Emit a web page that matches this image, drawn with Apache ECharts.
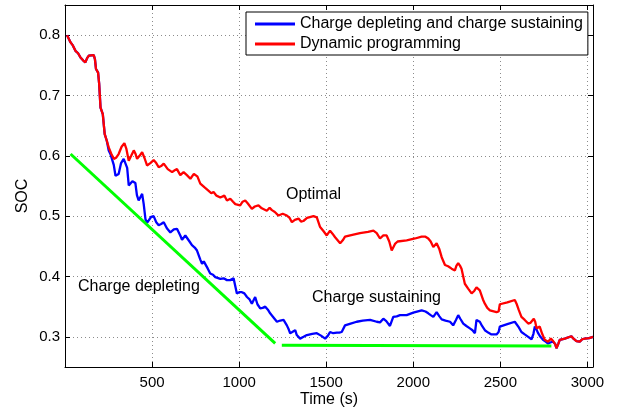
<!DOCTYPE html>
<html>
<head>
<meta charset="utf-8">
<script src="https://cdn.jsdelivr.net/npm/echarts@6/dist/echarts.min.js"></script>
<style>
  html, body { margin: 0; padding: 0; background: #fff; }
  #chart { width: 621px; height: 408px; }
</style>
</head>
<body>
<div id="chart"></div>
<script>
// Battery state of charge over a drive cycle: two energy management strategies.

// Dynamic programming (optimal) SOC trace
const dpTime = [12, 20, 32, 45, 60, 75, 89, 105, 117, 127, 137, 165, 172, 178, 190, 196, 204, 217, 228,
  240, 251, 265, 280, 294, 308, 325, 341, 352, 366, 380, 395, 404, 414, 428, 443, 457, 471, 490, 509,
  524, 538, 552, 567, 590, 615, 630, 643, 662, 681, 700, 720, 740, 760, 777, 800, 825, 840, 853, 870,
  892, 915, 930, 949, 965, 978, 1006, 1020, 1035, 1050, 1073, 1090, 1111, 1130, 1159, 1175, 1188, 1205,
  1226, 1250, 1274, 1290, 1303, 1320, 1341, 1355, 1369, 1390, 1427, 1446, 1465, 1485, 1503, 1522, 1536,
  1551, 1580, 1595, 1608, 1650, 1694, 1740, 1771, 1790, 1809, 1828, 1847, 1862, 1876, 1895, 1910, 1962,
  2010, 2048, 2070, 2086, 2100, 2115, 2134, 2150, 2163, 2182, 2200, 2220, 2239, 2248, 2258, 2268, 2277,
  2296, 2315, 2335, 2350, 2363, 2382, 2400, 2411, 2425, 2440, 2478, 2490, 2497, 2540, 2583, 2593, 2605,
  2621, 2640, 2660, 2672, 2692, 2700, 2708, 2726, 2740, 2755, 2774, 2790, 2803, 2815, 2822, 2832, 2841,
  2870, 2908, 2920, 2937, 2956, 2970, 2985, 3010, 3032];
const dpSoc = [0.800, 0.797, 0.788, 0.783, 0.774, 0.770, 0.763, 0.758, 0.755, 0.762, 0.766, 0.767, 0.760,
  0.744, 0.738, 0.720, 0.680, 0.669, 0.636,
  0.625, 0.614, 0.604, 0.595, 0.597, 0.603, 0.615, 0.621, 0.612, 0.592, 0.600, 0.609, 0.604, 0.595, 0.600,
  0.606, 0.596, 0.584, 0.588, 0.593, 0.588, 0.581, 0.583, 0.587, 0.578, 0.573, 0.576, 0.578, 0.568, 0.573,
  0.568, 0.562, 0.570, 0.566, 0.554, 0.548, 0.542, 0.538, 0.540, 0.534, 0.531, 0.534, 0.526, 0.529, 0.524,
  0.520, 0.518, 0.524, 0.526, 0.521, 0.512, 0.516, 0.518, 0.513, 0.509, 0.514, 0.510, 0.507, 0.501, 0.504,
  0.501, 0.497, 0.490, 0.494, 0.496, 0.491, 0.492, 0.497, 0.500, 0.498, 0.482, 0.475, 0.468, 0.476, 0.471,
  0.465, 0.455, 0.460, 0.466, 0.469, 0.472, 0.474, 0.476, 0.472, 0.463, 0.468, 0.468, 0.458, 0.443, 0.454,
  0.458, 0.460, 0.463, 0.466, 0.466, 0.463, 0.458, 0.449, 0.455, 0.445, 0.432, 0.419, 0.417, 0.413, 0.410,
  0.418, 0.422, 0.418, 0.413, 0.388, 0.380, 0.372, 0.376, 0.382, 0.377, 0.362, 0.355, 0.348, 0.344, 0.341,
  0.342, 0.354, 0.357, 0.361, 0.355, 0.345, 0.333, 0.328, 0.322, 0.323, 0.330, 0.325, 0.314, 0.317, 0.305,
  0.295, 0.292, 0.297, 0.293, 0.288, 0.281, 0.288, 0.295, 0.297, 0.301, 0.297, 0.293, 0.292, 0.296, 0.297,
  0.298, 0.300];

// Charge depleting / charge sustaining SOC trace
const cdcsTime = [12, 20, 32, 45, 60, 75, 89, 105, 117, 127, 137, 165, 172, 178, 190, 196, 204, 217, 228,
  240, 251, 262, 271, 280, 290, 299, 308, 322, 337, 345, 357, 366, 376, 387, 395, 404, 413, 423, 432, 443,
  452, 462, 471, 481, 495, 509, 524, 538, 552, 567, 585, 605, 625, 643, 653, 662, 672, 691, 701, 715, 729,
  745, 758, 767, 777, 787, 797, 806, 820, 834, 850, 863, 873, 892, 911, 930, 949, 968, 987, 1000, 1016,
  1030, 1045, 1060, 1073, 1092, 1105, 1121, 1135, 1150, 1165, 1178, 1195, 1217, 1236, 1255, 1274, 1285,
  1293, 1305, 1322, 1331, 1350, 1370, 1389, 1420, 1446, 1470, 1494, 1510, 1522, 1540, 1561, 1575, 1589,
  1608, 1640, 1675, 1710, 1752, 1790, 1809, 1828, 1845, 1866, 1885, 1905, 1924, 1962, 2000, 2048, 2070,
  2086, 2100, 2115, 2134, 2150, 2163, 2185, 2211, 2229, 2245, 2258, 2270, 2287, 2305, 2325, 2340, 2354,
  2363, 2382, 2395, 2411, 2430, 2449, 2478, 2490, 2497, 2540, 2583, 2593, 2605, 2621, 2640, 2660, 2679,
  2690, 2698, 2708, 2717, 2730, 2745, 2760, 2774, 2790, 2803, 2815, 2822, 2832, 2841, 2870, 2908, 2920,
  2937, 2956, 2970, 2985, 3010, 3032];
const cdcsSoc = [0.800, 0.797, 0.788, 0.783, 0.774, 0.770, 0.763, 0.758, 0.755, 0.762, 0.766, 0.767, 0.760,
  0.744, 0.738, 0.720, 0.680, 0.669, 0.636,
  0.625, 0.609, 0.602, 0.600, 0.585, 0.567, 0.567, 0.570, 0.588, 0.595, 0.592, 0.580, 0.551, 0.550, 0.558,
  0.561, 0.555, 0.535, 0.526, 0.531, 0.537, 0.520, 0.495, 0.489, 0.487, 0.499, 0.500, 0.490, 0.485, 0.487,
  0.490, 0.480, 0.473, 0.478, 0.479, 0.478, 0.468, 0.461, 0.468, 0.467, 0.458, 0.452, 0.448, 0.443, 0.443,
  0.428, 0.421, 0.425, 0.427, 0.413, 0.405, 0.403, 0.399, 0.399, 0.396, 0.397, 0.394, 0.394, 0.397, 0.372,
  0.374, 0.374, 0.372, 0.366, 0.362, 0.355, 0.366, 0.354, 0.347, 0.348, 0.350, 0.345, 0.339, 0.333, 0.325,
  0.327, 0.328, 0.319, 0.312, 0.306, 0.308, 0.311, 0.303, 0.297, 0.300, 0.303, 0.305, 0.306, 0.302, 0.297,
  0.302, 0.308, 0.306, 0.307, 0.307, 0.308, 0.319, 0.322, 0.325, 0.327, 0.328, 0.325, 0.324, 0.330, 0.326,
  0.318, 0.333, 0.334, 0.336, 0.336, 0.340, 0.344, 0.342, 0.339, 0.336, 0.333, 0.341, 0.334, 0.329, 0.327,
  0.325, 0.319, 0.328, 0.336, 0.330, 0.322, 0.318, 0.314, 0.311, 0.306, 0.328, 0.325, 0.318, 0.311, 0.307,
  0.304, 0.304, 0.308, 0.317, 0.321, 0.325, 0.322, 0.316, 0.308, 0.304, 0.300, 0.296, 0.305, 0.317, 0.312,
  0.306, 0.300, 0.295, 0.292, 0.289, 0.291, 0.292, 0.288, 0.281, 0.288, 0.295, 0.297, 0.301, 0.297, 0.293,
  0.292, 0.296, 0.297, 0.298, 0.300];

// Idealised strategy guide lines: depleting ramp, then sustaining level
const depletingTime = [32, 1207];
const depletingSoc = [0.603, 0.289];
const sustainingTime = [1245, 2793];
const sustainingSoc = [0.286, 0.285];

const xTicks = [500, 1000, 1500, 2000, 2500, 3000];
const yTicks = [0.3, 0.4, 0.5, 0.6, 0.7, 0.8];

const legendNames = ['Charge depleting and charge sustaining', 'Dynamic programming'];
const annotations = ['Optimal', 'Charge depleting', 'Charge sustaining'];
const xTitle = 'Time (s)';
const yTitle = 'SOC';

const zip = (xs, ys) => xs.map((x, i) => [x, ys[i]]);
const FONT = '"Liberation Sans", Arial, Helvetica, sans-serif';
const near = (v, list, eps) => list.some(t => Math.abs(v - t) < eps);

const chart = echarts.init(document.getElementById('chart'), null, { renderer: 'canvas' });

const gridLine = { show: true, lineStyle: { color: '#8c8c8c', type: [1, 3], width: 1 } };
const frameLine = { show: true, onZero: false, lineStyle: { color: '#000', width: 1 } };
const inTick = { show: true, inside: true, length: 5, lineStyle: { color: '#000', width: 1 } };

chart.setOption({
  animation: false,
  backgroundColor: '#fff',
  textStyle: { fontFamily: FONT },
  grid: { left: 65, top: 5, right: 28, bottom: 41, containLabel: false, outerBoundsMode: 'none' },
  xAxis: [
    {
      type: 'value', min: 0, max: 3032, interval: 500, position: 'bottom',
      axisLine: frameLine, axisTick: inTick, splitLine: gridLine,
      axisLabel: {
        color: '#000', fontSize: 15, fontFamily: FONT, margin: 8,
        formatter: v => (near(v, xTicks, 1e-6) ? String(v) : '')
      }
    },
    {
      type: 'value', min: 0, max: 3032, interval: 500, position: 'top',
      axisLine: frameLine, axisTick: inTick, splitLine: { show: false },
      axisLabel: { show: false }
    }
  ],
  yAxis: [
    {
      type: 'value', min: 0.25, max: 0.85, splitNumber: 6, position: 'left',
      axisLine: frameLine, axisTick: inTick, splitLine: gridLine,
      axisLabel: {
        color: '#000', fontSize: 15, fontFamily: FONT, margin: 5,
        formatter: v => (near(v, yTicks, 1e-6) ? v.toFixed(1) : '')
      }
    },
    {
      type: 'value', min: 0.25, max: 0.85, splitNumber: 6, position: 'right',
      axisLine: frameLine, axisTick: inTick, splitLine: { show: false },
      axisLabel: { show: false }
    }
  ],
  legend: {
    data: legendNames,
    orient: 'vertical',
    left: 246, top: 12,
    padding: [2, 5, 1, 9],
    itemGap: 0,
    itemWidth: 40, itemHeight: 3,
    icon: 'rect',
    borderColor: '#000', borderWidth: 1, borderRadius: 0,
    backgroundColor: '#fff',
    textStyle: { color: '#000', fontSize: 16, fontFamily: FONT, lineHeight: 20 },
    selectedMode: false
  },
  series: [
    {
      name: legendNames[0], type: 'line', data: zip(cdcsTime, cdcsSoc),
      showSymbol: false, symbol: 'none', z: 3,
      itemStyle: { color: '#0000ff' },
      lineStyle: { color: '#0000ff', width: 2.3 }
    },
    {
      name: legendNames[1], type: 'line', data: zip(dpTime, dpSoc),
      showSymbol: false, symbol: 'none', z: 4,
      itemStyle: { color: '#ff0000' },
      lineStyle: { color: '#ff0000', width: 2.3 }
    },
    {
      name: 'depleting guide', type: 'line', data: zip(depletingTime, depletingSoc),
      showSymbol: false, symbol: 'none', z: 5,
      lineStyle: { color: '#00ff00', width: 3 }
    },
    {
      name: 'sustaining guide', type: 'line', data: zip(sustainingTime, sustainingSoc),
      showSymbol: false, symbol: 'none', z: 5,
      lineStyle: { color: '#00ff00', width: 3 }
    }
  ],
  graphic: [
    {
      type: 'text', x: 286, y: 195, z: 10,
      style: { text: annotations[0], fill: '#000', font: '16px ' + FONT, verticalAlign: 'middle' }
    },
    {
      type: 'text', x: 78, y: 287, z: 10,
      style: { text: annotations[1], fill: '#000', font: '16px ' + FONT, verticalAlign: 'middle' }
    },
    {
      type: 'text', x: 312, y: 298, z: 10,
      style: { text: annotations[2], fill: '#000', font: '16px ' + FONT, verticalAlign: 'middle' }
    },
    {
      type: 'text', x: 329, y: 400, z: 10,
      style: { text: xTitle, fill: '#000', font: '16px ' + FONT, align: 'center', verticalAlign: 'middle' }
    },
    {
      type: 'text', x: 23, y: 196, rotation: Math.PI / 2, z: 10,
      style: { text: yTitle, fill: '#000', font: '16px ' + FONT, align: 'center', verticalAlign: 'middle' }
    }
  ]
});
</script>
</body>
</html>
